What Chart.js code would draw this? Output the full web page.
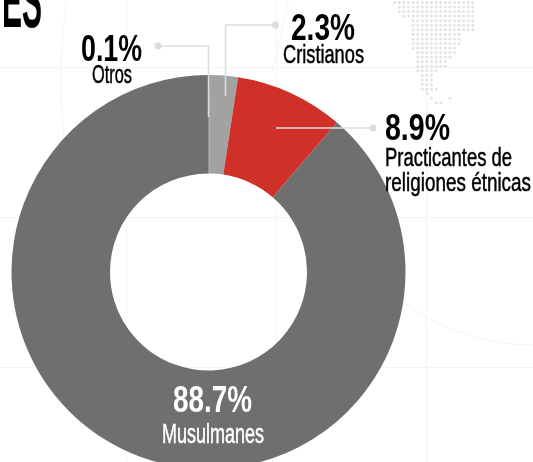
<!DOCTYPE html>
<html>
<head>
<meta charset="utf-8">
<script src="https://cdn.jsdelivr.net/npm/chart.js@4"></script>
<style>
  html, body { margin: 0; padding: 0; background: #fff; overflow: hidden; width: 533px; height: 462px; }
  canvas { display: block; }
</style>
</head>
<body>
<canvas id="chart" width="533" height="544"></canvas>
<script>
// ---- data ----
const categories = ['Otros', 'Cristianos', 'Practicantes de religiones étnicas', 'Musulmanes'];
const shares = [0.1, 2.3, 8.9, 88.7];
const sliceColors = ['#767676', '#a2a2a2', '#cf3028', '#6f6f6f'];

// ---- text blocks: [text, left x, baseline y, font size, target width, colour, weight] ----
const LABEL_FONT = '"Liberation Sans Narrow", "Liberation Sans", sans-serif';
const textBlocks = [
  ['ES', 2, 27, 76, 40, '#000', 'bold'],
  [shares[0] + '%', 81, 61, 37, 61, '#000', 'bold'],
  ['Otros', 92, 83, 26, 40, '#000', 'normal'],
  [shares[1] + '%', 291, 40, 37, 64, '#000', 'bold'],
  ['Cristianos', 283, 63, 26, 81, '#000', 'normal'],
  [shares[2] + '%', 385, 140, 37, 65, '#000', 'bold'],
  ['Practicantes de', 385, 166, 25, 127, '#000', 'normal'],
  ['religiones étnicas', 385, 191, 25, 146, '#000', 'normal'],
  [shares[3] + '%', 173, 412, 37, 79, '#fff', 'bold'],
  ['Musulmanes', 162, 443, 27, 102, '#fff', 'normal'],
];

// ---- leader lines, dot first ----
const leaders = [
  [[158, 46], [208.5, 46], [208.5, 117]],
  [[275.5, 25], [225.5, 25], [225.5, 96]],
  [[373, 128], [276, 128]],
];

// ---- dotted map in the background: first and last column per row ----
const mapRows = [
  [0, 17], [1, 17], [1, 17], [2, 17], [4, 17], [4, 17], [4, 17], [4, 14],
  [4, 14], [4, 14], [4, 13], [5, 13], [5, 12], [5, 11], [5, 11], [5, 9],
  [6, 8], [6, 8], [6, 8], [6, 9], [7, 7], [8, 8], [9, 10],
];

const backdrop = {
  id: 'backdrop',
  beforeDraw(chart) {
    const ctx = chart.ctx;
    ctx.save();
    ctx.strokeStyle = '#f4f4f6';
    ctx.lineWidth = 1;
    ctx.beginPath();
    [67.5, 217.5, 367.5].forEach(y => { ctx.moveTo(0, y); ctx.lineTo(533, y); });
    [126.5, 276.5, 426.5].forEach(x => { ctx.moveTo(x, 0); ctx.lineTo(x, 462); });
    ctx.stroke();

    // faint arcs
    ctx.beginPath();
    ctx.arc(645, 80, 584, Math.PI * 0.93, Math.PI * 1.06);
    ctx.stroke();
    ctx.beginPath();
    ctx.moveTo(288.5, 0);
    ctx.quadraticCurveTo(282, 32, 272, 72);
    ctx.stroke();
    ctx.beginPath();
    ctx.arc(533, 127, 218, Math.PI * 0.5, Math.PI * 0.82);
    ctx.stroke();

    // dotted map
    ctx.fillStyle = '#e2e2e9';
    mapRows.forEach((r, i) => {
      for (let c = r[0]; c <= r[1]; c++) {
        ctx.beginPath();
        ctx.arc(394.7 + c * 4.6, 2.4 + i * 4.56, 1.5, 0, Math.PI * 2);
        ctx.fill();
      }
    });
    // stray dot right of the tip
    ctx.beginPath();
    ctx.arc(394.7 + 12 * 4.6, 2.4 + 21 * 4.56, 1.5, 0, Math.PI * 2);
    ctx.fill();
    ctx.restore();
  },
};

const annotations = {
  id: 'annotations',
  afterDatasetsDraw(chart) {
    const ctx = chart.ctx;
    ctx.save();
    ctx.strokeStyle = '#dcdce4';
    ctx.fillStyle = '#dcdce4';
    ctx.lineWidth = 1.5;
    leaders.forEach(pts => {
      ctx.beginPath();
      pts.forEach((p, i) => i ? ctx.lineTo(p[0], p[1]) : ctx.moveTo(p[0], p[1]));
      ctx.stroke();
      ctx.beginPath();
      ctx.arc(pts[0][0], pts[0][1], 3.5, 0, Math.PI * 2);
      ctx.fill();
    });

    // squeeze each label to the condensed width of the original
    ctx.textAlign = 'left';
    ctx.textBaseline = 'alphabetic';
    textBlocks.forEach(([text, x, y, size, width, color, weight]) => {
      ctx.font = `${weight} ${size}px ${LABEL_FONT}`;
      ctx.fillStyle = color;
      ctx.strokeStyle = color;
      const sx = width / ctx.measureText(text).width;
      ctx.save();
      ctx.translate(x, y);
      ctx.scale(sx, 1);
      if (weight === 'normal') { ctx.lineWidth = 0.5; ctx.strokeText(text, 0, 0); }
      ctx.fillText(text, 0, 0);
      ctx.restore();
    });
    ctx.restore();
  },
};

new Chart(document.getElementById('chart').getContext('2d'), {
  type: 'doughnut',
  data: {
    labels: categories,
    datasets: [{ data: shares, backgroundColor: sliceColors, borderWidth: 0 }],
  },
  options: {
    responsive: false,
    animation: false,
    cutout: '50%',
    layout: { padding: { top: 75, bottom: 75, left: 0, right: 116 } },
    plugins: { legend: { display: false }, tooltip: { enabled: false } },
  },
  plugins: [backdrop, annotations],
});
</script>
</body>
</html>
